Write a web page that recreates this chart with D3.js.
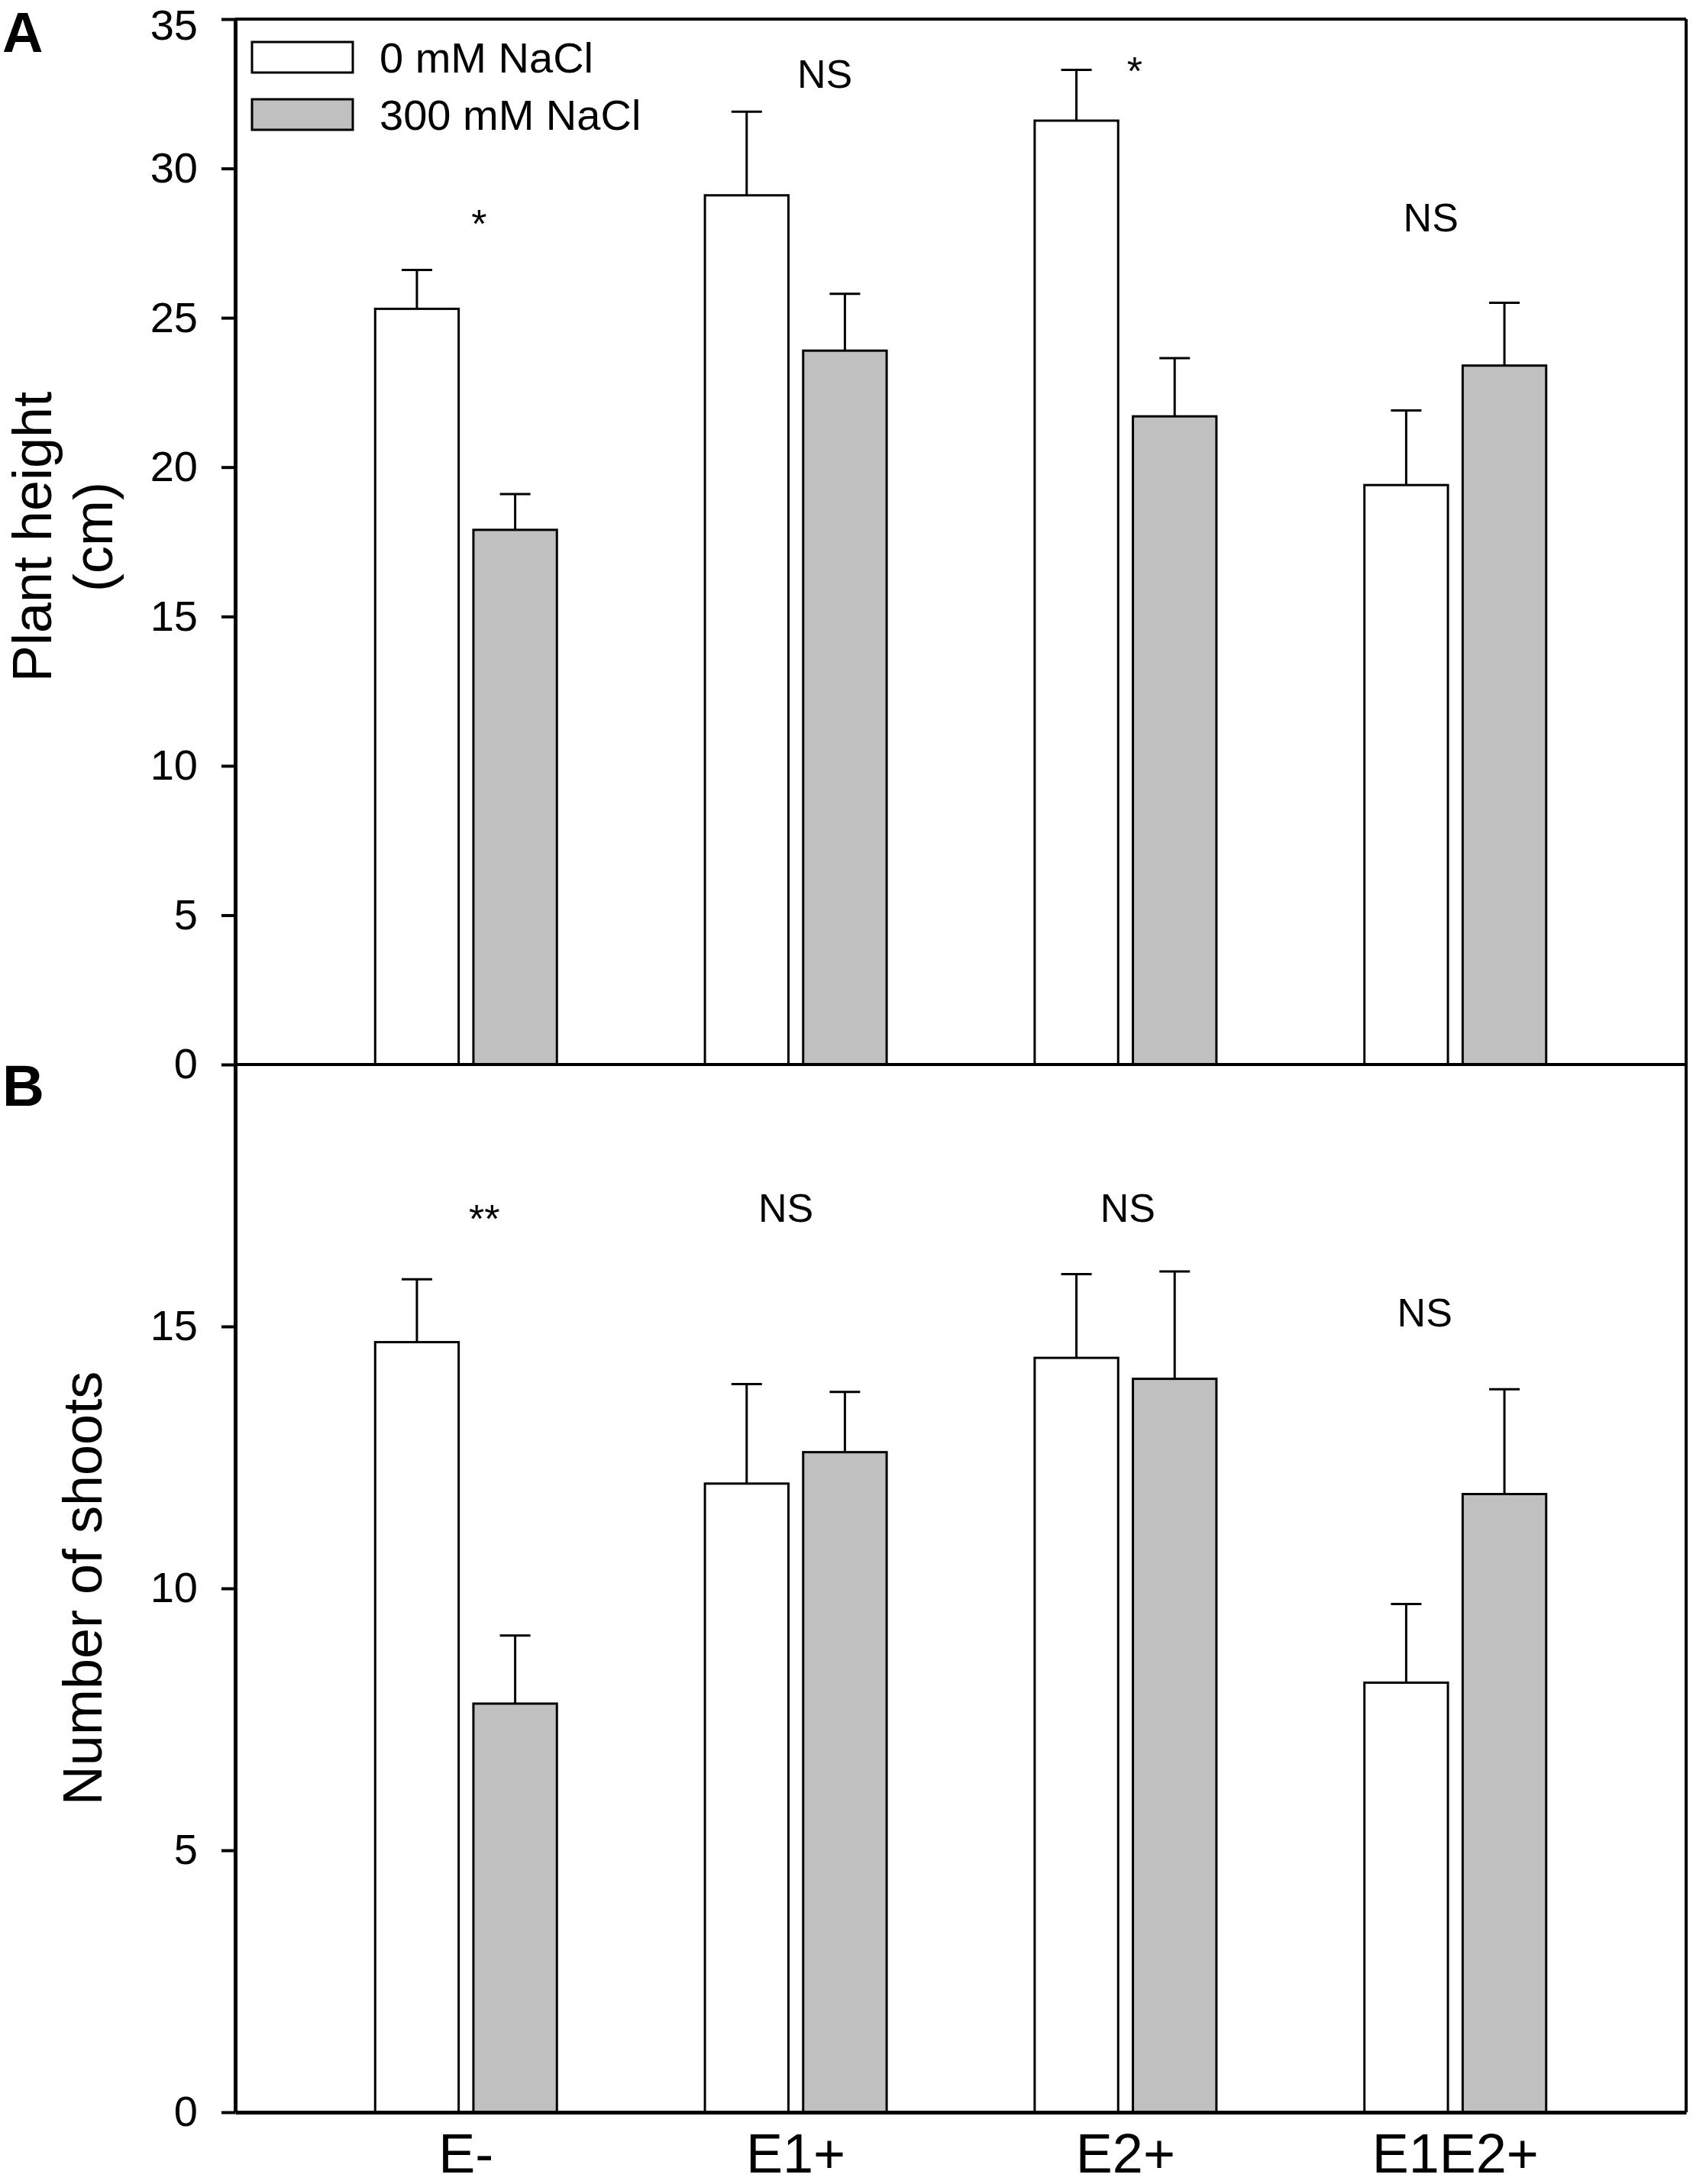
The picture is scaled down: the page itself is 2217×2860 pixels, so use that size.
<!DOCTYPE html>
<html>
<head>
<meta charset="utf-8">
<script src="https://cdn.jsdelivr.net/npm/d3@7"></script>
<style>
  body { margin: 0; background: #fff; }
  text { font-family: "Liberation Sans", Arial, sans-serif; fill: #000; }
</style>
</head>
<body>
<div id="chart"></div>
<script>
// groups and treatments
const categories = ["E-", "E1+", "E2+", "E1E2+"];
const series = ["0 mM NaCl", "300 mM NaCl"];

// panel A: plant height (cm)
const heightCtrl = [25.3, 29.1, 31.6, 19.4];
const heightCtrlErr = [1.3, 2.8, 1.7, 2.5];
const heightSalt = [17.9, 23.9, 21.7, 23.4];
const heightSaltErr = [1.2, 1.9, 1.95, 2.1];
const heightTicks = [0, 5, 10, 15, 20, 25, 30, 35];
const heightSig = ["*", "NS", "*", "NS"];
const heightSigY = [27.7, 32.7, 32.8, 27.9];

// panel B: number of shoots
const shootsCtrl = [14.7, 12.0, 14.4, 8.2];
const shootsCtrlErr = [1.2, 1.9, 1.6, 1.5];
const shootsSalt = [7.8, 12.6, 14.0, 11.8];
const shootsSaltErr = [1.3, 1.15, 2.05, 2.0];
const shootsTicks = [0, 5, 10, 15];
const shootsSig = ["**", "NS", "NS", "NS"];
const shootsSigY = [16.8, 17.0, 17.0, 15.0];

const W = 2217, H = 2860;
const left = 308, right = 2208;
const yTop = 25, yMid = 1394, yBot = 2766;
const fills = ["#ffffff", "#c0c0c0"];

const svg = d3.select("#chart").append("svg")
  .attr("width", W)
  .attr("height", H);

const x = d3.scaleBand()
  .domain(categories)
  .range([left, right])
  .paddingInner(0)
  .paddingOuter(0.2);

const xSub = d3.scaleBand()
  .domain(series)
  .range([-119, 119])
  .paddingInner(0.15);

const cx = c => x(c) + x.bandwidth() / 2;

function drawPanel(p) {
  const y = d3.scaleLinear().domain(p.domain).range([p.bottom, p.top]);
  const g = svg.append("g");

  // bars + error bars
  const rows = [];
  categories.forEach((c, i) => {
    rows.push({ c, s: series[0], v: p.ctrl[i], e: p.ctrlErr[i], k: 0 });
    rows.push({ c, s: series[1], v: p.salt[i], e: p.saltErr[i], k: 1 });
  });
  const mx = d => cx(d.c) + xSub(d.s) + xSub.bandwidth() / 2;

  g.selectAll("line.err").data(rows).join("line")
    .attr("class", "err")
    .attr("x1", mx).attr("x2", mx)
    .attr("y1", d => y(d.v))
    .attr("y2", d => y(d.v + d.e))
    .attr("stroke", "#000").attr("stroke-width", 3);

  g.selectAll("line.cap").data(rows).join("line")
    .attr("class", "cap")
    .attr("x1", d => mx(d) - 20)
    .attr("x2", d => mx(d) + 20)
    .attr("y1", d => y(d.v + d.e))
    .attr("y2", d => y(d.v + d.e))
    .attr("stroke", "#000").attr("stroke-width", 3);

  g.selectAll("rect.bar").data(rows).join("rect")
    .attr("class", "bar")
    .attr("x", d => cx(d.c) + xSub(d.s))
    .attr("width", xSub.bandwidth())
    .attr("y", d => y(d.v))
    .attr("height", d => y(0) - y(d.v))
    .attr("fill", d => fills[d.k])
    .attr("stroke", "#000").attr("stroke-width", 3);

  // significance labels
  g.selectAll("text.sig").data(p.sig).join("text")
    .attr("class", "sig")
    .attr("x", (d, i) => cx(categories[i]) + p.sigDx[i])
    .attr("y", (d, i) => y(p.sigY[i]))
    .attr("text-anchor", "middle")
    .attr("font-size", 52)
    .text(d => d);

  // right frame
  g.append("line")
    .attr("x1", right).attr("x2", right)
    .attr("y1", p.top).attr("y2", p.bottom)
    .attr("stroke", "#000").attr("stroke-width", 4);

  // y axis
  const ax = g.append("g")
    .attr("transform", `translate(${left},0)`)
    .call(d3.axisLeft(y).tickValues(p.ticks).tickSize(18).tickSizeOuter(0).tickPadding(31));
  ax.select(".domain").attr("stroke-width", 5);
  ax.selectAll(".tick line").attr("stroke-width", 4);
  ax.selectAll(".tick text")
    .attr("font-size", 56)
    .attr("font-family", "Liberation Sans, Arial, sans-serif");
  // keep the label of the topmost tick inside the page
  ax.selectAll(".tick text").filter(d => y(d) < 40).attr("dy", "0.47em");

  return { g, y };
}

drawPanel({
  domain: [0, 35], top: yTop, bottom: yMid, ticks: heightTicks,
  ctrl: heightCtrl, ctrlErr: heightCtrlErr, salt: heightSalt, saltErr: heightSaltErr,
  sig: heightSig, sigY: heightSigY, sigDx: [17, 38, 12, -32]
});

drawPanel({
  domain: [0, 20], top: yMid, bottom: yBot, ticks: shootsTicks,
  ctrl: shootsCtrl, ctrlErr: shootsCtrlErr, salt: shootsSalt, saltErr: shootsSaltErr,
  sig: shootsSig, sigY: shootsSigY, sigDx: [24, -13, 3, -40]
});

// top frame of A and shared line between panels
svg.append("line")
  .attr("x1", left).attr("x2", right).attr("y1", yTop).attr("y2", yTop)
  .attr("stroke", "#000").attr("stroke-width", 4);
svg.append("line")
  .attr("x1", left).attr("x2", right).attr("y1", yMid).attr("y2", yMid)
  .attr("stroke", "#000").attr("stroke-width", 4);

// x axis at bottom
const xa = svg.append("g")
  .attr("transform", `translate(0,${yBot})`)
  .call(d3.axisBottom(x).tickSize(0).tickSizeOuter(0).tickPadding(28));
xa.select(".domain").attr("stroke-width", 5);
xa.selectAll(".tick text")
  .attr("font-size", 72)
  .attr("font-family", "Liberation Sans, Arial, sans-serif");

// axis titles
const tA = svg.append("text")
  .attr("transform", `translate(67,703) rotate(-90)`)
  .attr("text-anchor", "middle")
  .attr("font-size", 72);
tA.append("tspan").attr("x", 0).attr("y", 0).text("Plant height");
tA.append("tspan").attr("x", 0).attr("y", 80).text("(cm)");

svg.append("text")
  .attr("transform", `translate(133,${(yMid + yBot) / 2}) rotate(-90)`)
  .attr("text-anchor", "middle")
  .attr("font-size", 72)
  .text("Number of shoots");

// panel letters
svg.append("text").attr("x", 3).attr("y", 68)
  .attr("font-size", 74).attr("font-weight", "bold").text("A");
svg.append("text").attr("x", 3).attr("y", 1448)
  .attr("font-size", 76).attr("font-weight", "bold").text("B");

// legend
const leg = svg.append("g").selectAll("g").data(series).join("g")
  .attr("transform", (d, i) => `translate(330,${55 + i * 75})`);
leg.append("rect")
  .attr("width", 132).attr("height", 40)
  .attr("fill", (d, i) => fills[i])
  .attr("stroke", "#000").attr("stroke-width", 3);
leg.append("text")
  .attr("x", 167).attr("y", 40)
  .attr("font-size", 56)
  .text(d => d);
</script>
</body>
</html>
